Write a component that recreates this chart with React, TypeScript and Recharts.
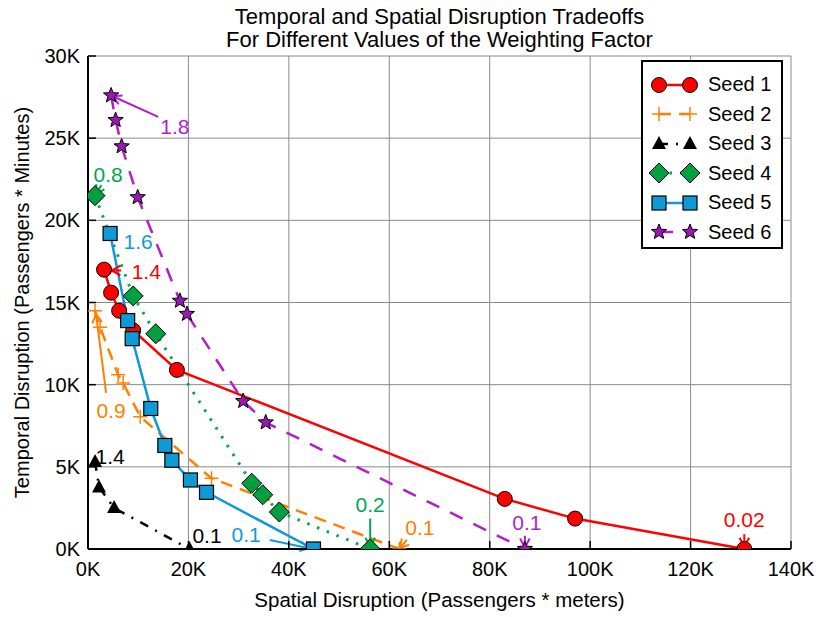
import { ComposedChart, Line, XAxis, YAxis, CartesianGrid, Legend, ReferenceLine, ReferenceDot, usePlotArea } from 'recharts'

// spatial disruption (x, passenger-meters) vs temporal disruption (y, passenger-minutes)
const seed1 = [
  { x: 3200, y: 17000 }, { x: 4600, y: 15600 }, { x: 6200, y: 14500 }, { x: 9000, y: 13300 },
  { x: 17700, y: 10900 }, { x: 83000, y: 3050 }, { x: 97000, y: 1850 }, { x: 130700, y: 0 },
]
const seed2 = [
  { x: 1400, y: 14500 }, { x: 2400, y: 13500 }, { x: 6000, y: 10600 }, { x: 7000, y: 10100 },
  { x: 10400, y: 8050 }, { x: 24600, y: 4300 }, { x: 62000, y: 0 },
]
const seed3 = [
  { x: 1400, y: 5300 }, { x: 2200, y: 3750 }, { x: 5200, y: 2500 }, { x: 20200, y: 0 },
]
const seed4 = [
  { x: 1400, y: 21500 }, { x: 9000, y: 15400 }, { x: 13500, y: 13100 }, { x: 32600, y: 4000 },
  { x: 34800, y: 3300 }, { x: 38100, y: 2250 }, { x: 56200, y: 0 },
]
const seed5 = [
  { x: 4400, y: 19200 }, { x: 7900, y: 13900 }, { x: 8800, y: 12800 }, { x: 12500, y: 8550 },
  { x: 15300, y: 6300 }, { x: 16700, y: 5400 }, { x: 20400, y: 4200 }, { x: 23600, y: 3450 },
  { x: 44900, y: 0 },
]
const seed6 = [
  { x: 4600, y: 27600 }, { x: 5500, y: 26100 }, { x: 6700, y: 24500 }, { x: 9900, y: 21400 },
  { x: 18300, y: 15100 }, { x: 19700, y: 14300 }, { x: 30900, y: 9000 }, { x: 35400, y: 7700 },
  { x: 87000, y: 0 },
]

const xTicks = [0, 20000, 40000, 60000, 80000, 100000, 120000, 140000]
const yTicks = [0, 5000, 10000, 15000, 20000, 25000, 30000]

// weighting factor labels: text position, optional arrow (from -> to)
const notes = [
  { text: '1.8', seed: 6, at: [17300, 25700], from: [14000, 26300], to: [4900, 27550] },
  { text: '0.8', seed: 4, at: [4000, 22800], from: [2700, 22150], to: [1500, 21600] },
  { text: '1.6', seed: 5, at: [10000, 18700] },
  { text: '1.4', seed: 1, at: [11600, 16900], from: [6600, 16950], to: [4700, 16950] },
  { text: '0.9', seed: 2, at: [4600, 8400], from: [3600, 9500], to: [1600, 14300] },
  { text: '1.4', seed: 3, at: [4400, 5600] },
  { text: '0.1', seed: 3, at: [23700, 800] },
  { text: '0.1', seed: 5, at: [31500, 900], from: [36200, 550], to: [44000, 50] },
  { text: '0.2', seed: 4, at: [56200, 2700], from: [56200, 1850], to: [56200, 150] },
  { text: '0.1', seed: 2, at: [66100, 1300], from: [63500, 550], to: [62100, 50] },
  { text: '0.1', seed: 6, at: [87400, 1600], from: [87000, 800], to: [87000, 100] },
  { text: '0.02', seed: 1, at: [130700, 1800], from: [130700, 900], to: [130700, 150] },
]

type Shape = 'circle' | 'plus' | 'triangle' | 'diamond' | 'square' | 'star'

const series: { name: string; data: { x: number; y: number }[]; color: string; fill: string; dash?: string; width: number; shape: Shape }[] = [
  { name: 'Seed 1', data: seed1, color: '#ff0000', fill: '#ff0000', width: 2.5, shape: 'circle' },
  { name: 'Seed 2', data: seed2, color: '#ff8000', fill: '#ff8000', dash: '12 8', width: 2.5, shape: 'plus' },
  { name: 'Seed 3', data: seed3, color: '#000000', fill: '#000000', dash: '9 8 2 8', width: 2.5, shape: 'triangle' },
  { name: 'Seed 4', data: seed4, color: '#00a650', fill: '#00a040', dash: '2.5 8', width: 3, shape: 'diamond' },
  { name: 'Seed 5', data: seed5, color: '#0f9ad6', fill: '#0f9ad6', width: 2.5, shape: 'square' },
  { name: 'Seed 6', data: seed6, color: '#b21ec8', fill: '#9a19b5', dash: '14 12', width: 2.5, shape: 'star' },
]

const FONT = '"Liberation Sans", Arial, sans-serif'
const fmtK = (v: number) => `${v / 1000}K`
const CLIP_ID = 'plot-area-clip'

function Marker({ shape, cx, cy, color, fill }: { shape: Shape; cx: number; cy: number; color: string; fill: string }) {
  switch (shape) {
    case 'circle':
      return <circle cx={cx} cy={cy} r={7.5} fill={fill} stroke="#000" strokeWidth={1} />
    case 'plus':
      return <path d={`M${cx - 7},${cy}H${cx + 7}M${cx},${cy - 7}V${cy + 7}`} stroke={color} strokeWidth={1.5} fill="none" />
    case 'triangle':
      return <path d={`M${cx},${cy - 8}L${cx + 7},${cy + 5}L${cx - 7},${cy + 5}Z`} fill="#000" />
    case 'diamond':
      return <path d={`M${cx},${cy - 10}L${cx + 10},${cy}L${cx},${cy + 10}L${cx - 10},${cy}Z`} fill={fill} stroke="#000" strokeWidth={1} />
    case 'square':
      return <rect x={cx - 7} y={cy - 7} width={14} height={14} fill={fill} stroke="#000" strokeWidth={1.2} />
    case 'star': {
      const pts: string[] = []
      for (let i = 0; i < 10; i++) {
        const r = i % 2 === 0 ? 8 : 3.4
        const a = -Math.PI / 2 + (i * Math.PI) / 5
        pts.push(`${cx + r * Math.cos(a)},${cy + r * Math.sin(a)}`)
      }
      return <polygon points={pts.join(' ')} fill={fill} stroke="#000" strokeWidth={1} />
    }
  }
}

// clip region for markers sitting on the axes
function PlotClip() {
  const area = usePlotArea()
  if (!area) return null
  return (
    <defs>
      <clipPath id={CLIP_ID}>
        <rect x={area.x} y={area.y} width={area.width} height={area.height} />
      </clipPath>
    </defs>
  )
}

function Arrow(props: any) {
  const { x1, y1, x2, y2, stroke } = props
  const a = Math.atan2(y2 - y1, x2 - x1)
  const h = 10
  const s = 0.5
  const p1 = `${x2 - h * Math.cos(a - s)},${y2 - h * Math.sin(a - s)}`
  const p2 = `${x2 - h * Math.cos(a + s)},${y2 - h * Math.sin(a + s)}`
  return (
    <g>
      <line x1={x1} y1={y1} x2={x2} y2={y2} stroke={stroke} strokeWidth={2} />
      <path d={`M${p1}L${x2},${y2}L${p2}`} fill="none" stroke={stroke} strokeWidth={2} />
    </g>
  )
}

// tick labels plus short inward tick marks
const TICK = 8
const bottomTick = (p: any) => (
  <g key={`xb-${p.index}`}>
    <line x1={p.x} x2={p.x} y1={p.y - 13} y2={p.y - 13 - TICK} stroke="#000" strokeWidth={1.5} />
    <text x={p.x} y={p.y} dy="0.71em" textAnchor="middle" fontSize={20} fontFamily={FONT} fill="#000">
      {fmtK(p.payload.value)}
    </text>
  </g>
)
const leftTick = (p: any) => (
  <g key={`yl-${p.index}`}>
    <line x1={p.x + 8} x2={p.x + 8 + TICK} y1={p.y} y2={p.y} stroke="#000" strokeWidth={1.5} />
    <text x={p.x} y={p.y} dy="0.355em" textAnchor="end" fontSize={20} fontFamily={FONT} fill="#000">
      {fmtK(p.payload.value)}
    </text>
  </g>
)
const topTick = (p: any) => (
  <line key={`xt-${p.index}`} x1={p.x} x2={p.x} y1={p.y} y2={p.y + TICK} stroke="#000" strokeWidth={1.5} />
)
const rightTick = (p: any) => (
  <line key={`yr-${p.index}`} x1={p.x} x2={p.x - TICK} y1={p.y} y2={p.y} stroke="#000" strokeWidth={1.5} />
)

function LegendBox() {
  return (
    <div style={{ border: '2px solid #000', background: '#fff', padding: '8px 0 0 4px', fontFamily: FONT }}>
      {series.map((s) => (
        <div key={s.name} style={{ display: 'flex', alignItems: 'center', height: 29.5 }}>
          <svg width={58} height={24}>
            <line x1={12} x2={43} y1={12} y2={12} stroke={s.color} strokeWidth={s.width} strokeDasharray={s.dash} />
            <Marker shape={s.shape} cx={12} cy={12} color={s.color} fill={s.fill} />
            <Marker shape={s.shape} cx={43} cy={12} color={s.color} fill={s.fill} />
          </svg>
          <span style={{ fontSize: 20, marginLeft: 3, color: '#000' }}>{s.name}</span>
        </div>
      ))}
    </div>
  )
}

export default function App() {
  return (
    <div style={{ position: 'absolute', left: 0, top: 0, width: 822, height: 617, background: '#fff', fontFamily: FONT }}>
      <div style={{ position: 'absolute', left: 88, top: 5, width: 703, textAlign: 'center', fontSize: 22, lineHeight: '23px', color: '#000' }}>
        Temporal and Spatial Disruption Tradeoffs
        <br />
        For Different Values of the Weighting Factor
      </div>
      <ComposedChart width={822} height={617} margin={{ top: 56, right: 31, bottom: 10, left: 8 }}>
        <PlotClip />
        <CartesianGrid stroke="#8a8a8a" strokeWidth={1} />
        <XAxis
          dataKey="x"
          type="number"
          domain={[0, 140000]}
          ticks={xTicks}
          interval={0}
          allowDataOverflow
          height={58}
          tickSize={0}
          tickMargin={13}
          tick={bottomTick}
          axisLine={{ stroke: '#000', strokeWidth: 2 }}
          label={{ value: 'Spatial Disruption (Passengers * meters)', position: 'insideBottom', offset: 0, fontSize: 20.5, fill: '#000', fontFamily: FONT }}
        />
        <XAxis xAxisId="top" orientation="top" dataKey="x" type="number" domain={[0, 140000]} ticks={xTicks} interval={0} height={0} tickSize={0} tickMargin={0} tick={topTick} axisLine={{ stroke: '#000', strokeWidth: 2 }} />
        <YAxis
          type="number"
          domain={[0, 30000]}
          ticks={yTicks}
          interval={0}
          allowDataOverflow
          width={80}
          tickSize={0}
          tickMargin={8}
          tick={leftTick}
          axisLine={{ stroke: '#000', strokeWidth: 2 }}
          label={{ value: 'Temporal Disruption (Passengers * Minutes)', angle: -90, position: 'insideLeft', offset: 14, fontSize: 20, fill: '#000', fontFamily: FONT, style: { textAnchor: 'middle' } }}
        />
        <YAxis yAxisId="right" orientation="right" type="number" domain={[0, 30000]} ticks={yTicks} interval={0} width={0} tickSize={0} tickMargin={0} tick={rightTick} axisLine={{ stroke: '#000', strokeWidth: 2 }} />
        {series.map((s) => (
          <Line
            key={s.name}
            name={s.name}
            data={s.data}
            dataKey="y"
            type="linear"
            stroke={s.color}
            strokeWidth={s.width}
            strokeDasharray={s.dash}
            isAnimationActive={false}
            dot={(p: any) => (
              <g key={`${s.name}-${p.index}`} clipPath={`url(#${CLIP_ID})`}>
                <Marker shape={s.shape} cx={p.cx} cy={p.cy} color={s.color} fill={s.fill} />
              </g>
            )}
            activeDot={false}
          />
        ))}
        {notes.filter((n) => n.from && n.to).map((n, i) => (
          <ReferenceLine
            key={`arrow-${i}`}
            segment={[{ x: n.from![0], y: n.from![1] }, { x: n.to![0], y: n.to![1] }]}
            stroke={series[n.seed - 1].color}
            ifOverflow="visible"
            shape={Arrow}
          />
        ))}
        {notes.map((n, i) => (
          <ReferenceDot
            key={`note-${i}`}
            x={n.at[0]}
            y={n.at[1]}
            r={0}
            ifOverflow="visible"
            shape={(p: any) => (
              <text x={p.cx} y={p.cy} dy="0.355em" textAnchor="middle" fontSize={21} fontFamily={FONT} fill={series[n.seed - 1].color}>
                {n.text}
              </text>
            )}
          />
        ))}
        <Legend layout="vertical" align="center" verticalAlign="middle" wrapperStyle={{ left: 641, top: 60, width: 142 }} content={() => <LegendBox />} />
      </ComposedChart>
    </div>
  )
}
